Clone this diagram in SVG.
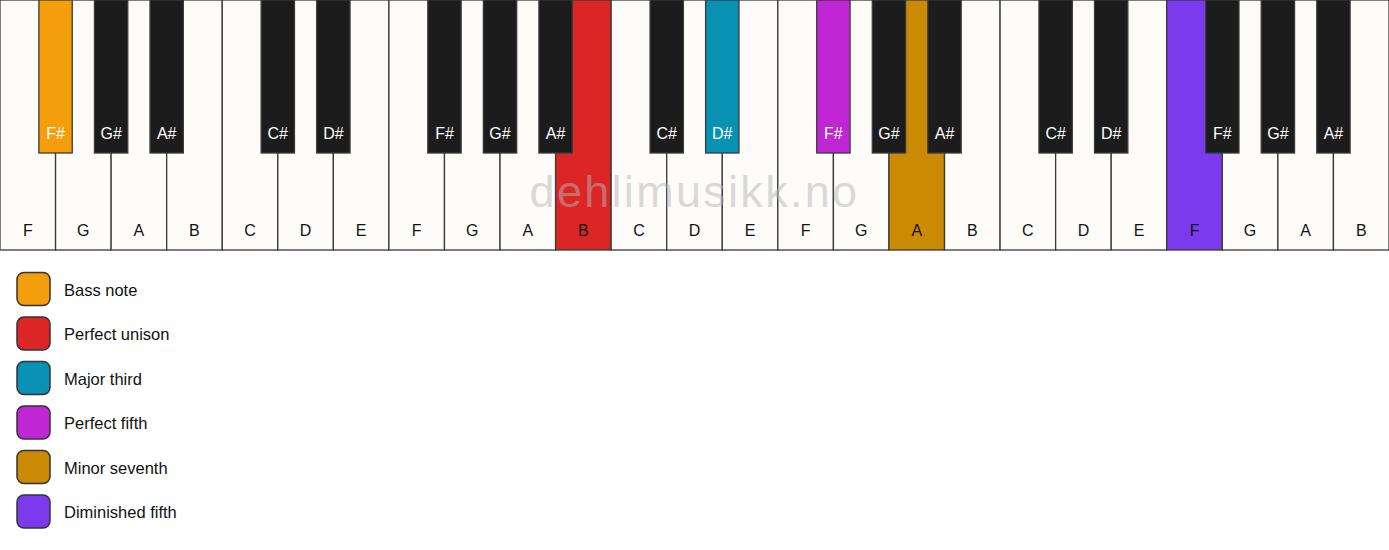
<svg xmlns="http://www.w3.org/2000/svg" width="1389" height="550" viewBox="0 0 1389 550">
<style>
.w{fill:#fdfcf8;stroke:#3a3a3a;stroke-width:1.3}
.b{fill:#1c1c1c;stroke:#3a3a3a;stroke-width:1.3}
.wl{font-family:"Liberation Sans",Arial,sans-serif;font-size:16px;fill:#111;text-anchor:middle}
.bl{font-family:"Liberation Sans",Arial,sans-serif;font-size:16px;fill:#fff;text-anchor:middle}
.lg{stroke:#333;stroke-width:1.5}
.lt{font-family:"Liberation Sans",Arial,sans-serif;font-size:16.5px;fill:#111}
.wm{font-family:"Liberation Sans",Arial,sans-serif;font-size:45px;fill:#b4b4b4;fill-opacity:0.5;text-anchor:middle;letter-spacing:2.3px}
</style>
<rect width="1389" height="550" fill="#ffffff"/>
<g id="white-keys">
<g id="w0"><rect class="w" x="0" y="0" width="55.56" height="250"/><text class="wl" x="27.78" y="236">F</text></g>
<g id="w1"><rect class="w" x="55.56" y="0" width="55.56" height="250"/><text class="wl" x="83.34" y="236">G</text></g>
<g id="w2"><rect class="w" x="111.12" y="0" width="55.56" height="250"/><text class="wl" x="138.9" y="236">A</text></g>
<g id="w3"><rect class="w" x="166.68" y="0" width="55.56" height="250"/><text class="wl" x="194.46" y="236">B</text></g>
<g id="w4"><rect class="w" x="222.24" y="0" width="55.56" height="250"/><text class="wl" x="250.02" y="236">C</text></g>
<g id="w5"><rect class="w" x="277.8" y="0" width="55.56" height="250"/><text class="wl" x="305.58" y="236">D</text></g>
<g id="w6"><rect class="w" x="333.36" y="0" width="55.56" height="250"/><text class="wl" x="361.14" y="236">E</text></g>
<g id="w7"><rect class="w" x="388.92" y="0" width="55.56" height="250"/><text class="wl" x="416.7" y="236">F</text></g>
<g id="w8"><rect class="w" x="444.48" y="0" width="55.56" height="250"/><text class="wl" x="472.26" y="236">G</text></g>
<g id="w9"><rect class="w" x="500.04" y="0" width="55.56" height="250"/><text class="wl" x="527.82" y="236">A</text></g>
<g id="w10"><rect class="w" x="555.6" y="0" width="55.56" height="250" style="fill:#dc2626"/><text class="wl" x="583.38" y="236">B</text></g>
<g id="w11"><rect class="w" x="611.16" y="0" width="55.56" height="250"/><text class="wl" x="638.94" y="236">C</text></g>
<g id="w12"><rect class="w" x="666.72" y="0" width="55.56" height="250"/><text class="wl" x="694.5" y="236">D</text></g>
<g id="w13"><rect class="w" x="722.28" y="0" width="55.56" height="250"/><text class="wl" x="750.06" y="236">E</text></g>
<g id="w14"><rect class="w" x="777.84" y="0" width="55.56" height="250"/><text class="wl" x="805.62" y="236">F</text></g>
<g id="w15"><rect class="w" x="833.4" y="0" width="55.56" height="250"/><text class="wl" x="861.18" y="236">G</text></g>
<g id="w16"><rect class="w" x="888.96" y="0" width="55.56" height="250" style="fill:#ca8a04"/><text class="wl" x="916.74" y="236">A</text></g>
<g id="w17"><rect class="w" x="944.52" y="0" width="55.56" height="250"/><text class="wl" x="972.3" y="236">B</text></g>
<g id="w18"><rect class="w" x="1000.08" y="0" width="55.56" height="250"/><text class="wl" x="1027.86" y="236">C</text></g>
<g id="w19"><rect class="w" x="1055.64" y="0" width="55.56" height="250"/><text class="wl" x="1083.42" y="236">D</text></g>
<g id="w20"><rect class="w" x="1111.2" y="0" width="55.56" height="250"/><text class="wl" x="1138.98" y="236">E</text></g>
<g id="w21"><rect class="w" x="1166.76" y="0" width="55.56" height="250" style="fill:#7c3aed"/><text class="wl" x="1194.54" y="236">F</text></g>
<g id="w22"><rect class="w" x="1222.32" y="0" width="55.56" height="250"/><text class="wl" x="1250.1" y="236">G</text></g>
<g id="w23"><rect class="w" x="1277.88" y="0" width="55.56" height="250"/><text class="wl" x="1305.66" y="236">A</text></g>
<g id="w24"><rect class="w" x="1333.44" y="0" width="55.56" height="250"/><text class="wl" x="1361.22" y="236">B</text></g>
</g>
<g id="black-keys">
<g id="b0"><rect class="b" x="38.89" y="0" width="33.34" height="153" style="fill:#f59e0b"/><text class="bl" x="55.56" y="139">F#</text></g>
<g id="b1"><rect class="b" x="94.45" y="0" width="33.34" height="153"/><text class="bl" x="111.12" y="139">G#</text></g>
<g id="b2"><rect class="b" x="150.01" y="0" width="33.34" height="153"/><text class="bl" x="166.68" y="139">A#</text></g>
<g id="b4"><rect class="b" x="261.13" y="0" width="33.34" height="153"/><text class="bl" x="277.8" y="139">C#</text></g>
<g id="b5"><rect class="b" x="316.69" y="0" width="33.34" height="153"/><text class="bl" x="333.36" y="139">D#</text></g>
<g id="b7"><rect class="b" x="427.81" y="0" width="33.34" height="153"/><text class="bl" x="444.48" y="139">F#</text></g>
<g id="b8"><rect class="b" x="483.37" y="0" width="33.34" height="153"/><text class="bl" x="500.04" y="139">G#</text></g>
<g id="b9"><rect class="b" x="538.93" y="0" width="33.34" height="153"/><text class="bl" x="555.6" y="139">A#</text></g>
<g id="b11"><rect class="b" x="650.05" y="0" width="33.34" height="153"/><text class="bl" x="666.72" y="139">C#</text></g>
<g id="b12"><rect class="b" x="705.61" y="0" width="33.34" height="153" style="fill:#0891b2"/><text class="bl" x="722.28" y="139">D#</text></g>
<g id="b14"><rect class="b" x="816.73" y="0" width="33.34" height="153" style="fill:#c026d3"/><text class="bl" x="833.4" y="139">F#</text></g>
<g id="b15"><rect class="b" x="872.29" y="0" width="33.34" height="153"/><text class="bl" x="888.96" y="139">G#</text></g>
<g id="b16"><rect class="b" x="927.85" y="0" width="33.34" height="153"/><text class="bl" x="944.52" y="139">A#</text></g>
<g id="b18"><rect class="b" x="1038.97" y="0" width="33.34" height="153"/><text class="bl" x="1055.64" y="139">C#</text></g>
<g id="b19"><rect class="b" x="1094.53" y="0" width="33.34" height="153"/><text class="bl" x="1111.2" y="139">D#</text></g>
<g id="b21"><rect class="b" x="1205.65" y="0" width="33.34" height="153"/><text class="bl" x="1222.32" y="139">F#</text></g>
<g id="b22"><rect class="b" x="1261.21" y="0" width="33.34" height="153"/><text class="bl" x="1277.88" y="139">G#</text></g>
<g id="b23"><rect class="b" x="1316.77" y="0" width="33.34" height="153"/><text class="bl" x="1333.44" y="139">A#</text></g>
</g>
<text class="wm" x="694.5" y="207">dehlimusikk.no</text>
<g id="connectors"/>
<g id="legend">
<g id="lg-bass"><rect class="lg" x="17" y="272.5" width="33" height="33" rx="7" fill="#f59e0b"/><text class="lt" x="64" y="295.5">Bass note</text></g>
<g id="lg-unison"><rect class="lg" x="17" y="317" width="33" height="33" rx="7" fill="#dc2626"/><text class="lt" x="64" y="340">Perfect unison</text></g>
<g id="lg-third"><rect class="lg" x="17" y="361.5" width="33" height="33" rx="7" fill="#0891b2"/><text class="lt" x="64" y="384.5">Major third</text></g>
<g id="lg-fifth"><rect class="lg" x="17" y="406" width="33" height="33" rx="7" fill="#c026d3"/><text class="lt" x="64" y="429">Perfect fifth</text></g>
<g id="lg-seventh"><rect class="lg" x="17" y="450.5" width="33" height="33" rx="7" fill="#ca8a04"/><text class="lt" x="64" y="473.5">Minor seventh</text></g>
<g id="lg-dim"><rect class="lg" x="17" y="495" width="33" height="33" rx="7" fill="#7c3aed"/><text class="lt" x="64" y="518">Diminished fifth</text></g>
</g>
</svg>
